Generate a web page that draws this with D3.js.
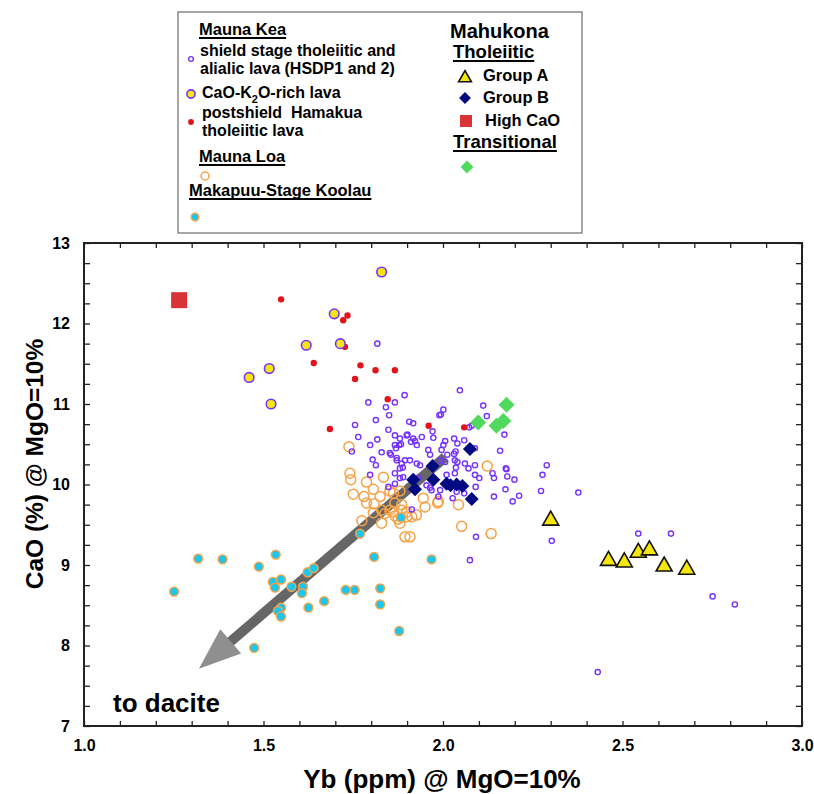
<!DOCTYPE html>
<html>
<head>
<meta charset="utf-8">
<script src="https://cdn.jsdelivr.net/npm/d3@7"></script>
<style>
body { margin: 0; background: #fff; }
text { font-family: "Liberation Sans", Arial, sans-serif; }
</style>
</head>
<body>
<svg id="chart" width="814" height="794"></svg>
<script>
// Yb (ppm) @ MgO=10%, CaO (%) @ MgO=10%
var maunaKeaShield = [
  [1.817,11.75],[1.893,11.11],[1.792,11.02],[1.841,10.96],[1.866,11.02],[1.850,10.86],[1.813,10.80],
  [1.755,10.74],[1.764,10.59],[1.797,10.49],[1.817,10.56],[1.829,10.40],[1.746,10.41],[1.804,10.31],
  [1.813,10.24],[1.797,10.12],[1.848,10.68],[1.866,10.61],[1.880,10.57],[1.866,10.49],[1.878,10.49],
  [1.899,10.61],[1.917,10.57],[1.906,10.78],[1.917,10.76],[1.941,10.59],[1.927,10.49],[1.852,10.39],
  [1.871,10.30],[1.885,10.26],[1.908,10.30],[1.927,10.26],[1.866,10.14],[1.880,10.08],[1.959,10.43],
  [1.964,10.37],[1.971,10.66],[1.973,10.58],[1.990,10.86],[2.001,10.93],[1.994,10.87],[2.006,10.54],
  [2.001,10.49],[1.901,10.62],[1.922,10.54],[1.869,10.45],[1.883,10.50],[1.911,10.53],[1.996,10.43],
  [1.855,10.37],[1.871,10.33],[1.894,10.30],[1.936,10.24],[2.012,10.37],[2.006,10.28],[1.992,10.30],
  [1.888,10.21],[1.964,9.96],[1.931,10.08],[1.848,9.97],[1.866,10.01],[1.889,10.09],[1.913,9.69],
  [1.954,9.99],[1.968,9.93],[1.992,9.93],[1.987,9.85],[1.880,10.20],
  [2.047,11.17],[2.112,10.98],[2.122,10.85],[2.080,10.73],[2.073,10.71],[2.171,10.62],[2.031,10.57],
  [2.059,10.55],[2.040,10.51],[2.159,10.42],[2.035,10.41],[2.031,10.38],[2.089,10.45],[2.033,10.30],
  [2.040,10.28],[2.061,10.26],[2.089,10.24],[2.036,10.21],[2.071,10.20],[2.175,10.20],[2.289,10.24],
  [2.177,10.19],[2.138,10.14],[2.142,10.08],[2.179,10.10],[2.199,10.06],[2.174,9.94],[2.212,9.86],
  [2.194,9.79],[2.142,9.85],[2.091,9.97],[2.059,9.89],[2.027,9.83],[2.010,10.12],[2.033,10.14],
  [2.089,10.12],[2.101,10.08],[2.038,9.91],[2.277,10.12],[2.273,9.92],[2.377,9.90],[2.303,9.30],
  [2.092,9.35],[2.075,9.06],[2.544,9.39],[2.635,9.39],[2.751,8.61],[2.813,8.51],[2.431,7.67]
];
var maunaKeaCaOK2O = [
  [1.829,12.64],[1.697,12.12],[1.619,11.73],[1.714,11.75],[1.516,11.44],[1.460,11.33],[1.521,11.00]
];
var hamakua = [
  [1.549,12.30],[1.734,12.10],[1.722,12.04],[1.727,11.71],[1.640,11.51],[1.770,11.48],[1.812,11.42],
  [1.866,11.42],[1.755,11.31],[1.846,11.06],[1.685,10.69],[1.960,10.73],[2.059,10.71]
];
var maunaLoa = [
  [1.738,10.47],[1.741,10.14],[1.743,10.06],[1.834,10.09],[1.787,10.03],[1.750,9.88],[1.780,9.85],
  [1.806,9.94],[1.825,9.85],[1.787,9.77],[1.808,9.76],[1.852,9.92],[1.862,9.89],[1.880,9.92],
  [1.829,9.68],[1.852,9.68],[1.866,9.77],[1.806,9.65],[1.838,9.64],[1.862,9.66],[1.885,9.68],
  [1.899,9.66],[1.913,9.60],[1.926,9.62],[1.885,9.75],[1.945,9.83],[1.950,9.72],[1.987,9.79],
  [1.774,9.55],[1.829,9.52],[1.880,9.52],[1.899,9.60],[1.894,9.35],[1.908,9.35],[1.866,9.61],
  [1.875,9.57],[2.123,10.23],[2.052,9.48],[2.134,9.39],[2.043,9.75],[1.985,9.77]
];
var koolau = [
  [1.251,8.67],[1.318,9.08],[1.386,9.07],[1.487,8.98],[1.534,9.13],[1.526,8.79],[1.532,8.72],
  [1.549,8.82],[1.578,8.73],[1.623,8.91],[1.640,8.96],[1.610,8.73],[1.607,8.65],[1.549,8.47],
  [1.540,8.43],[1.549,8.36],[1.625,8.47],[1.669,8.55],[1.729,8.69],[1.754,8.69],[1.825,8.71],
  [1.825,8.51],[1.878,8.18],[1.474,7.97],[1.808,9.10],[1.968,9.07],[1.769,9.39],[1.883,9.59]
];
var groupA = [[2.300,9.57],[2.461,9.07],[2.505,9.05],[2.544,9.17],[2.575,9.20],[2.616,9.00],[2.679,8.96]];
var groupB = [[2.075,10.44],[1.971,10.23],[1.917,10.06],[1.922,9.94],[1.973,10.06],[2.021,9.99],
  [2.038,10.00],[2.054,9.98],[2.080,9.82],[2.010,10.01]];
var highCaO = [[1.265,12.29]];
var transitional = [[2.177,10.99],[2.098,10.77],[2.149,10.73],[2.168,10.79]];
var daciteArrow = [[2.006,10.34],[1.320,7.71]];

var xMajor = [1.0, 1.5, 2.0, 2.5, 3.0];
var yMajor = [7, 8, 9, 10, 11, 12, 13];

var svg = d3.select("#chart");
var x = d3.scaleLinear().domain([1, 3]).range([84, 802]);
var y = d3.scaleLinear().domain([7, 13]).range([726, 243]);

var C = {purple: "#7433ff", yellow: "#f6e610", red: "#e0141a", orange: "#f7a246",
  cyan: "#18c8f0", navy: "#000a80", green: "#50d95c", square: "#d93336"};

// legend box
var lg = svg.append("g");
lg.append("rect").attr("x", 178).attr("y", 12).attr("width", 404).attr("height", 221)
  .attr("fill", "#fff").attr("stroke", "#888").attr("stroke-width", 1.5);

function label(g, txt, px, py, size, weight, underline) {
  var t = g.append("text").attr("x", px).attr("y", py).attr("font-size", size)
    .attr("font-weight", weight || "bold").text(txt);
  if (underline) {
    var w = t.node().getComputedTextLength();
    g.append("line").attr("x1", px).attr("x2", px + w).attr("y1", py + 3).attr("y2", py + 3)
      .attr("stroke", "#000").attr("stroke-width", underline);
  }
  return t;
}

function marker(g, kind, cx, cy, s) {
  s = s || 1;
  if (kind == "shield") g.append("circle").attr("cx", cx).attr("cy", cy).attr("r", 2.6 * s)
    .attr("fill", "none").attr("stroke", C.purple).attr("stroke-width", 1.4);
  else if (kind == "cak") g.append("circle").attr("cx", cx).attr("cy", cy).attr("r", 4.8 * s)
    .attr("fill", C.yellow).attr("stroke", C.purple).attr("stroke-width", 1.6);
  else if (kind == "ham") g.append("circle").attr("cx", cx).attr("cy", cy).attr("r", 3.2 * s)
    .attr("fill", C.red);
  else if (kind == "loa") g.append("circle").attr("cx", cx).attr("cy", cy).attr("r", 5 * s)
    .attr("fill", "none").attr("stroke", C.orange).attr("stroke-width", 1.5);
  else if (kind == "koo") g.append("circle").attr("cx", cx).attr("cy", cy).attr("r", 4.4 * s)
    .attr("fill", C.cyan).attr("stroke", C.orange).attr("stroke-width", 1.5);
  else if (kind == "triA") g.append("path").attr("transform", "translate(" + cx + "," + cy + ") scale(" + s + ")")
    .attr("d", "M0,-8L8,6L-8,6Z").attr("fill", C.yellow).attr("stroke", "#111").attr("stroke-width", 1.6 / s);
  else if (kind == "diaB") g.append("path").attr("transform", "translate(" + cx + "," + cy + ") scale(" + s + ")")
    .attr("d", "M0,-7L7,0L0,7L-7,0Z").attr("fill", C.navy);
  else if (kind == "sq") g.append("rect").attr("x", cx - 8 * s).attr("y", cy - 8 * s)
    .attr("width", 16 * s).attr("height", 16 * s).attr("fill", C.square);
  else if (kind == "tr") g.append("path").attr("transform", "translate(" + cx + "," + cy + ") scale(" + s + ")")
    .attr("d", "M0,-8L8,0L0,8L-8,0Z").attr("fill", C.green);
}

label(lg, "Mauna Kea", 199, 35, 16.5, "bold", 2);
marker(lg, "shield", 191, 59, 0.9);
label(lg, "shield stage tholeiitic and", 200, 56, 16);
label(lg, "alialic lava (HSDP1 and 2)", 200, 74, 16);
marker(lg, "cak", 191, 94, 0.85);
var ck = label(lg, "CaO-K", 202, 98, 16);
ck.append("tspan").attr("dy", 5).attr("font-size", 11).text("2");
ck.append("tspan").attr("dy", -5).text("O-rich lava");
marker(lg, "ham", 191, 122, 0.9);
label(lg, "postshield  Hamakua", 202, 118, 16).attr("xml:space", "preserve");
label(lg, "tholeiitic lava", 202, 136, 16);
label(lg, "Mauna Loa", 199, 162, 16.5, "bold", 2);
marker(lg, "loa", 205, 176, 0.8);
label(lg, "Makapuu-Stage Koolau", 189, 196, 16.5, "bold", 2);
marker(lg, "koo", 195, 217, 0.85);

label(lg, "Mahukona", 450, 38, 20);
label(lg, "Tholeiitic", 453, 58, 18.5, "bold", 1.8);
marker(lg, "triA", 465, 77, 0.8);
label(lg, "Group A", 483, 81, 16.5);
marker(lg, "diaB", 465, 98, 0.85);
label(lg, "Group B", 483, 103, 16.5);
marker(lg, "sq", 466, 121, 0.75);
label(lg, "High CaO", 485, 126, 16.5);
label(lg, "Transitional", 453, 148, 18.5, "bold", 1.8);
marker(lg, "tr", 467, 167, 0.8);

// axes (ticks inward on all four sides)
var xTicks = d3.range(10, 31).map(function(d) { return d / 10; });
var yTicks = d3.range(28, 53).map(function(d) { return d / 4; });
var fmtX = function(d) { return xMajor.indexOf(Math.round(d * 10) / 10) >= 0 ? d3.format(".1f")(d) : ""; };
var fmtY = function(d) { return yMajor.indexOf(d) >= 0 ? d : ""; };

function styleAxis(g) {
  g.select(".domain").remove();
  g.selectAll(".tick line").attr("stroke", "#222").attr("stroke-width", 1.3);
  g.selectAll(".tick text").attr("font-size", 16).attr("font-weight", "bold").attr("fill", "#000")
    .attr("font-family", "'Liberation Sans', Arial, sans-serif");
}
svg.append("g").attr("transform", "translate(0,726)")
  .call(d3.axisBottom(x).tickValues(xTicks).tickFormat(fmtX).tickSizeInner(-5).tickSizeOuter(0).tickPadding(14))
  .call(styleAxis);
svg.append("g").attr("transform", "translate(0,243)")
  .call(d3.axisTop(x).tickValues(xTicks).tickFormat("").tickSizeInner(-5).tickSizeOuter(0))
  .call(styleAxis);
svg.append("g").attr("transform", "translate(84,0)")
  .call(d3.axisLeft(y).tickValues(yTicks).tickFormat(fmtY).tickSizeInner(-6).tickSizeOuter(0).tickPadding(14))
  .call(styleAxis);
svg.append("g").attr("transform", "translate(802,0)")
  .call(d3.axisRight(y).tickValues(yTicks).tickFormat("").tickSizeInner(-6).tickSizeOuter(0))
  .call(styleAxis);
svg.append("rect").attr("x", x(1)).attr("y", y(13)).attr("width", x(3) - x(1)).attr("height", y(7) - y(13))
  .attr("fill", "none").attr("stroke", "#222").attr("stroke-width", 2);

// axis titles
svg.append("text").attr("x", 442).attr("y", 788).attr("text-anchor", "middle")
  .attr("font-size", 26).attr("font-weight", "bold").text("Yb (ppm) @ MgO=10%");
svg.append("text").attr("transform", "translate(43,464) rotate(-90)").attr("text-anchor", "middle")
  .attr("font-size", 24.5).attr("font-weight", "bold").text("CaO (%) @ MgO=10%");

// arrow toward dacite
var p0 = [x(daciteArrow[0][0]), y(daciteArrow[0][1])], p1 = [x(daciteArrow[1][0]), y(daciteArrow[1][1])];
var dx = p1[0] - p0[0], dy = p1[1] - p0[1], len = Math.sqrt(dx * dx + dy * dy);
var ux = dx / len, uy = dy / len, headLen = 42, headW = 16;
var bx = p1[0] - headLen * ux, by = p1[1] - headLen * uy;
svg.append("line").attr("x1", p0[0]).attr("y1", p0[1]).attr("x2", bx + 2 * ux).attr("y2", by + 2 * uy)
  .attr("stroke", "#666").attr("stroke-width", 10);
svg.append("path").attr("d", "M" + p1[0] + "," + p1[1] +
  "L" + (bx - uy * headW) + "," + (by + ux * headW) +
  "L" + (bx + uy * headW) + "," + (by - ux * headW) + "Z").attr("fill", "#8f8f8f");
svg.append("text").attr("x", 113).attr("y", 712).attr("font-size", 26).attr("font-weight", "bold").text("to dacite");

// data
var plot = svg.append("g");
function series(data, kind) {
  data.forEach(function(d) { marker(plot, kind, x(d[0]), y(d[1]), 1); });
}
series(maunaLoa, "loa");
series(koolau, "koo");
series(maunaKeaShield, "shield");
series(hamakua, "ham");
series(maunaKeaCaOK2O, "cak");
series(transitional, "tr");
series(groupB, "diaB");
series(groupA, "triA");
series(highCaO, "sq");
</script>
</body>
</html>
